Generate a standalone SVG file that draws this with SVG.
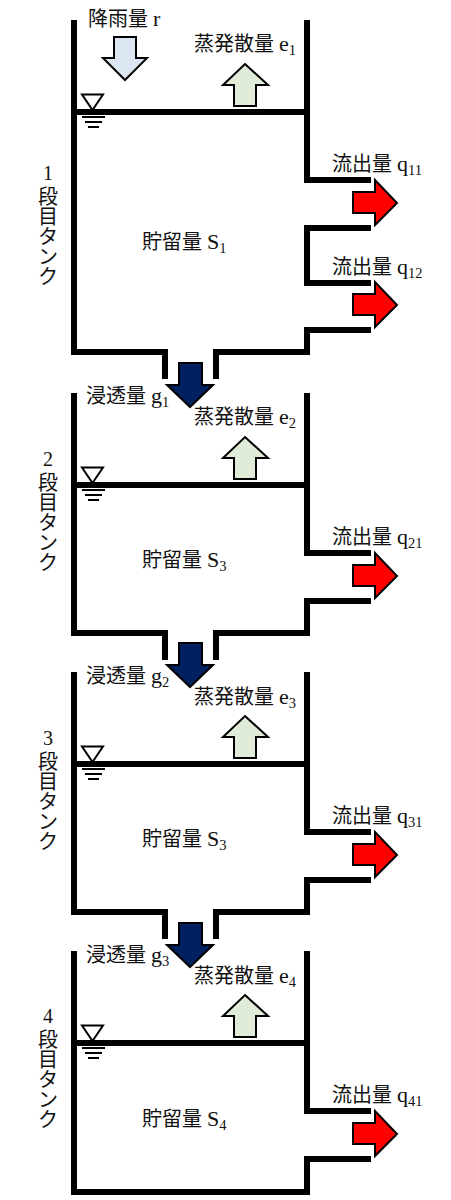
<svg xmlns="http://www.w3.org/2000/svg" xmlns:xlink="http://www.w3.org/1999/xlink" width="451" height="1200" viewBox="0 0 451 1200">
<style>
.w{fill:none;stroke:#000;stroke-width:6;stroke-linejoin:miter}
.a{stroke:#000;stroke-width:2}
.t{font-family:"Liberation Serif","Noto Sans CJK JP",serif;font-size:20px;fill:#111}
.l{font-size:22px}
.s{font-size:14.500px}
.v{text-anchor:middle}
.b{fill:#dce6f2}.g{fill:#e0ecd8}.r{fill:#f00}.d{fill:#002060}
</style>
<defs>
<g id="lvl"><path d="M82 94.500H103L92.500 110Z" fill="#fff" stroke="#000" stroke-width="2"/><path d="M82 117H105M85 122H102M88 127H99" stroke="#000" stroke-width="2" fill="none"/></g>
<polygon id="up" class="a g" points="245,64 268,85 256,85 256,106 234,106 234,85 223,85"/>
<polygon id="out" class="a r" points="353,192 375,192 375,180 397,203 375,225 375,213 353,213"/>
<polygon id="seep" class="a d" points="179,363 202,363 202,385 213,385 190,407 167,385 179,385"/>
</defs>
<g id="connectors">
<path class="w" d="M74 20V352H165V379M216 379V352H307V330H371M307 20V180H371M371 228H307V283H371M74 112H307"/>
<path class="w" d="M74 393V633H165V660M216 660V633H307V601H371M307 393V553H371M74 485H307"/>
<path class="w" d="M74 672V912H165V939M216 939V912H307V880H371M307 672V832H371M74 764H307"/>
<path class="w" d="M74 951V1192H307V1159H371M307 951V1111H371M74 1043H307"/>
<polygon id="rain" class="a b" points="114,37 136,37 136,58 147,58 125,80 103,58 114,58"/>
<use xlink:href="#up"/><use xlink:href="#up" y="373"/><use xlink:href="#up" y="652"/><use xlink:href="#up" y="931"/>
<use xlink:href="#out"/><use xlink:href="#out" y="102"/><use xlink:href="#out" y="373"/><use xlink:href="#out" y="652"/><use xlink:href="#out" y="931"/>
<use xlink:href="#seep"/><use xlink:href="#seep" y="280"/><use xlink:href="#seep" y="560"/>
</g>
<g id="tank1">
<use xlink:href="#lvl"/>
<text class="t" x="88" y="25.500">降雨量 <tspan class="l">r</tspan></text>
<text class="t" x="194" y="51">蒸発散量 <tspan class="l">e</tspan><tspan class="s" dy="4">1</tspan></text>
<text class="t" x="332" y="171">流出量 <tspan class="l">q</tspan><tspan class="s" dy="4">11</tspan></text>
<text class="t" x="332" y="273.500">流出量 <tspan class="l">q</tspan><tspan class="s" dy="4">12</tspan></text>
<text class="t" x="142" y="248.500">貯留量 <tspan class="l">S</tspan><tspan class="s" dy="4">1</tspan></text>
<text class="t v" x="47"><tspan x="48" y="180">1</tspan><tspan x="48" y="204">段</tspan><tspan x="48" y="224">目</tspan><tspan x="48" y="244">タ</tspan><tspan x="48" y="264">ン</tspan><tspan x="48" y="284">ク</tspan></text>
</g>
<g id="tank2">
<use xlink:href="#lvl" y="373"/>
<text class="t" x="86" y="402.500">浸透量 <tspan class="l">g</tspan><tspan class="s" dy="4">1</tspan></text>
<text class="t" x="194" y="424">蒸発散量 <tspan class="l">e</tspan><tspan class="s" dy="4">2</tspan></text>
<text class="t" x="332" y="544">流出量 <tspan class="l">q</tspan><tspan class="s" dy="4">21</tspan></text>
<text class="t" x="142" y="567">貯留量 <tspan class="l">S</tspan><tspan class="s" dy="4">3</tspan></text>
<text class="t v" x="47"><tspan x="48" y="466">2</tspan><tspan x="48" y="490">段</tspan><tspan x="48" y="510">目</tspan><tspan x="48" y="530">タ</tspan><tspan x="48" y="550">ン</tspan><tspan x="48" y="570">ク</tspan></text>
</g>
<g id="tank3">
<use xlink:href="#lvl" y="652"/>
<text class="t" x="86" y="682.500">浸透量 <tspan class="l">g</tspan><tspan class="s" dy="4">2</tspan></text>
<text class="t" x="194" y="703.500">蒸発散量 <tspan class="l">e</tspan><tspan class="s" dy="4">3</tspan></text>
<text class="t" x="332" y="823">流出量 <tspan class="l">q</tspan><tspan class="s" dy="4">31</tspan></text>
<text class="t" x="142" y="846">貯留量 <tspan class="l">S</tspan><tspan class="s" dy="4">3</tspan></text>
<text class="t v" x="47"><tspan x="48" y="745">3</tspan><tspan x="48" y="769">段</tspan><tspan x="48" y="789">目</tspan><tspan x="48" y="809">タ</tspan><tspan x="48" y="829">ン</tspan><tspan x="48" y="849">ク</tspan></text>
</g>
<g id="tank4">
<use xlink:href="#lvl" y="931"/>
<text class="t" x="86" y="961.500">浸透量 <tspan class="l">g</tspan><tspan class="s" dy="4">3</tspan></text>
<text class="t" x="194" y="982.500">蒸発散量 <tspan class="l">e</tspan><tspan class="s" dy="4">4</tspan></text>
<text class="t" x="332" y="1102">流出量 <tspan class="l">q</tspan><tspan class="s" dy="4">41</tspan></text>
<text class="t" x="142" y="1125.500">貯留量 <tspan class="l">S</tspan><tspan class="s" dy="4">4</tspan></text>
<text class="t v" x="47"><tspan x="48" y="1023">4</tspan><tspan x="48" y="1047">段</tspan><tspan x="48" y="1067">目</tspan><tspan x="48" y="1087">タ</tspan><tspan x="48" y="1107">ン</tspan><tspan x="48" y="1127">ク</tspan></text>
</g>
</svg>
